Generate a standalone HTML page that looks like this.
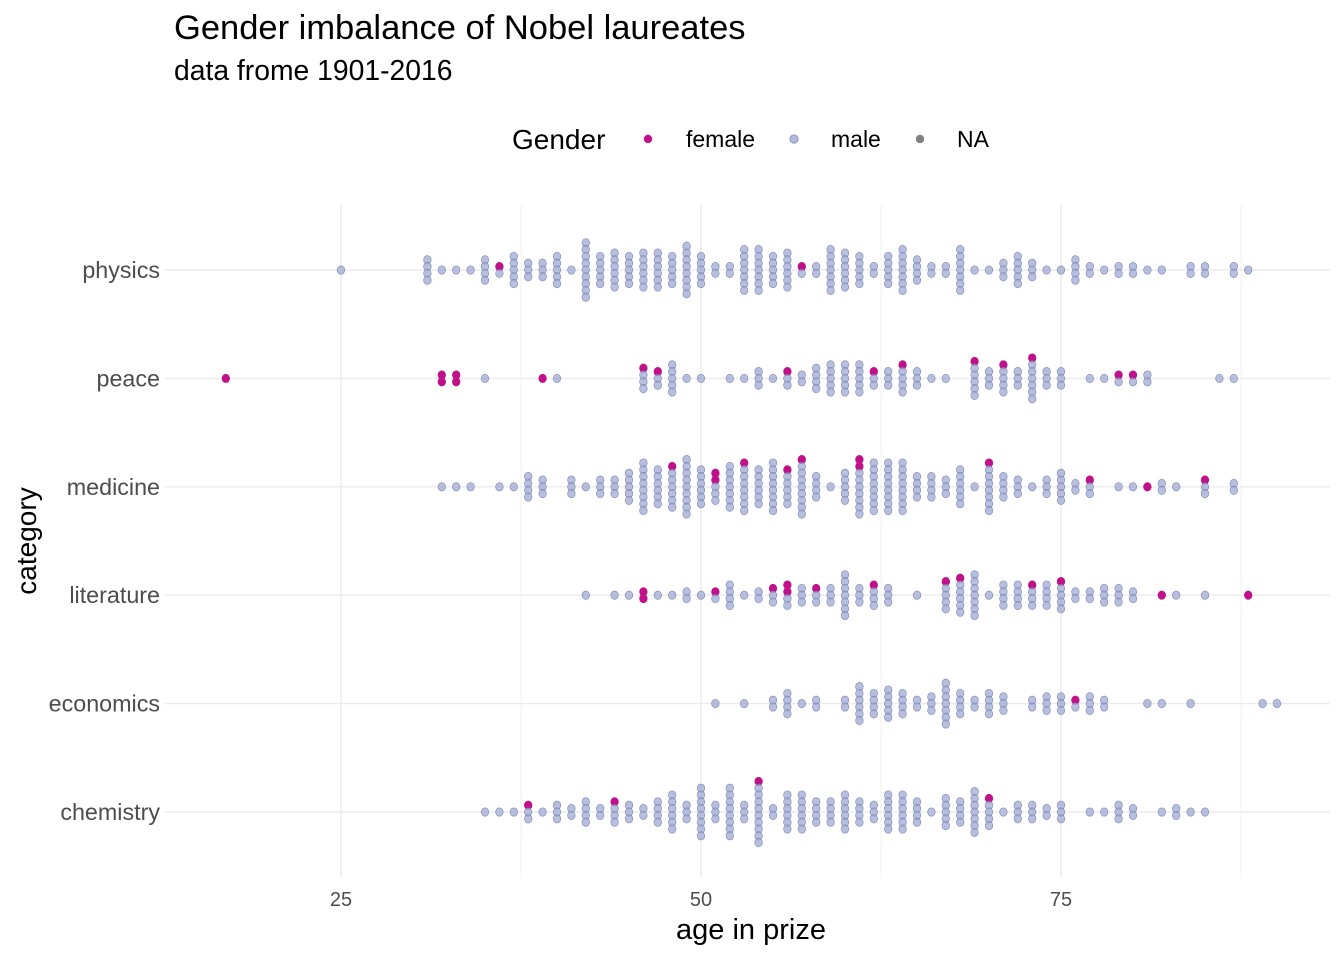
<!DOCTYPE html>
<html><head><meta charset="utf-8"><style>
body{margin:0;background:#fff;}
svg text{font-family:"Liberation Sans",Arial,sans-serif;}
</style></head><body>
<svg id="chart" width="1344" height="960" xmlns="http://www.w3.org/2000/svg">
<text x="174" y="39" font-size="34.5" fill="#000">Gender imbalance of Nobel laureates</text>
<text x="174" y="80" font-size="28.3" fill="#000">data frome 1901-2016</text>
<g>
<text x="512" y="149" font-size="28">Gender</text>
<circle cx="648" cy="139" r="4.2" fill="#c0118a"/>
<text x="686" y="147" font-size="23">female</text>
<circle cx="794" cy="139" r="4.2" fill="#b3badb" stroke="#8690c4" stroke-width="0.8"/>
<text x="831" y="147" font-size="23">male</text>
<circle cx="920" cy="139" r="4.2" fill="#808080"/>
<text x="957" y="147" font-size="23">NA</text>
</g>
<g id="grid"></g>
<g id="ylabels"></g>
<g id="xlabels"></g>
<g id="points"></g>
<text x="751" y="939" font-size="29" text-anchor="middle">age in prize</text>
<text transform="translate(36,541) rotate(-90)" font-size="28" text-anchor="middle">category</text>
</svg>
<script>
const categories = ["physics","peace","medicine","literature","economics","chemistry"];
const xTicks = [25,50,75];
const physicsAges   = [25,31,32,33,34,35,36,37,38,39,40,41,42,43,44,45,46,47,48,49,50,51,52,53,54,55,56,57,58,59,60,61,62,63,64,65,66,67,68,69,70,71,72,73,74,75,76,77,78,79,80,81,82,84,85,87,88];
const physicsCounts = [1,4,1,1,1,4,2,5,3,3,5,1,9,5,6,5,6,6,5,8,5,2,2,7,7,5,6,2,2,7,6,5,2,5,7,4,2,2,7,1,1,3,5,3,1,1,4,2,1,2,2,1,1,2,2,2,1];
const physicsFemale = [0,0,0,0,0,0,1,0,0,0,0,0,0,0,0,0,0,0,0,0,0,0,0,0,0,0,0,1,0,0,0,0,0,0,0,0,0,0,0,0,0,0,0,0,0,0,0,0,0,0,0,0,0,0,0,0,0];
const peaceAges   = [17,32,33,35,39,40,46,47,48,49,50,52,53,54,55,56,57,58,59,60,61,62,63,64,65,66,67,69,70,71,72,73,74,75,77,78,79,80,81,86,87];
const peaceCounts = [1,2,2,1,1,1,4,3,5,1,1,1,1,3,1,3,2,4,5,5,5,3,3,5,3,1,1,6,3,5,3,7,3,3,1,1,2,2,2,1,1];
const peaceFemale = [1,2,2,0,1,0,1,1,0,0,0,0,0,0,0,1,0,0,0,0,0,1,0,1,0,0,0,1,0,1,0,1,0,0,0,0,1,1,0,0,0];
const medicineAges   = [32,33,34,36,37,38,39,41,42,43,44,45,46,47,48,49,50,51,52,53,54,55,56,57,58,59,60,61,62,63,64,65,66,67,68,69,70,71,72,73,74,75,76,77,79,80,81,82,83,85,87];
const medicineCounts = [1,1,1,1,1,4,3,3,1,3,3,5,8,6,7,9,6,5,7,8,6,8,6,9,4,1,5,9,8,8,8,4,4,3,6,1,8,4,3,1,3,5,2,3,1,1,1,2,1,3,2];
const medicineFemale = [0,0,0,0,0,0,0,0,0,0,0,0,0,0,1,0,0,2,0,1,0,0,1,1,0,0,0,2,0,0,0,0,0,0,0,0,1,0,0,0,0,0,0,1,0,0,1,0,0,1,0];
const literatureAges   = [42,44,45,46,47,48,49,50,51,52,53,54,55,56,57,58,59,60,61,62,63,65,67,68,69,70,71,72,73,74,75,76,77,78,79,80,82,83,85,88];
const literatureCounts = [1,1,1,2,1,1,2,1,2,4,1,2,3,4,3,3,3,7,3,4,3,1,5,6,7,1,4,4,4,4,5,2,2,3,3,2,1,1,1,1];
const literatureFemale = [0,0,0,2,0,0,0,0,1,0,0,0,1,2,0,1,0,0,0,1,0,0,1,1,0,0,0,0,1,0,1,0,0,0,0,0,1,0,0,1];
const economicsAges   = [51,53,55,56,57,58,60,61,62,63,64,65,66,67,68,69,70,71,73,74,75,76,77,78,81,82,84,89,90];
const economicsCounts = [1,1,2,4,1,2,2,6,4,5,4,2,3,7,4,2,4,3,2,3,3,2,3,2,1,1,1,1,1];
const economicsFemale = [0,0,0,0,0,0,0,0,0,0,0,0,0,0,0,0,0,0,0,0,0,1,0,0,0,0,0,0,0];
const chemistryAges   = [35,36,37,38,39,40,41,42,43,44,45,46,47,48,49,50,51,52,53,54,55,56,57,58,59,60,61,62,63,64,65,66,67,68,69,70,71,72,73,74,75,77,78,79,80,82,83,84,85];
const chemistryCounts = [1,1,1,3,1,3,2,4,2,4,3,2,4,6,3,8,3,8,3,10,2,6,6,4,4,6,4,3,6,6,4,1,5,4,7,5,1,3,3,2,3,1,1,3,2,1,2,1,1];
const chemistryFemale = [0,0,0,1,0,0,0,0,0,1,0,0,0,0,0,0,0,0,0,1,0,0,0,0,0,0,0,0,0,0,0,0,0,0,0,1,0,0,0,0,0,0,0,0,0,0,0,0,0];

const NS="http://www.w3.org/2000/svg";
const xScale = a => 341 + (a-25)*14.4;
const yScale = i => 270 + i*108.4;
const STEP = 6.8;
function mk(tag, attrs, parent){const e=document.createElementNS(NS,tag);for(const k in attrs)e.setAttribute(k,attrs[k]);parent.appendChild(e);return e;}
const grid=document.getElementById('grid');
[37.5,62.5,87.5].forEach(v=>{
  const l=mk('line',{x1:xScale(v),x2:xScale(v),y1:205,y2:878,stroke:'#f2f2f2','stroke-width':1},grid);
  
  
});
xTicks.forEach(v=>{
  const l=mk('line',{x1:xScale(v),x2:xScale(v),y1:205,y2:878,stroke:'#ebebeb','stroke-width':1.4},grid);
  
  
  const t=mk('text',{x:xScale(v),y:906,'font-size':20,'text-anchor':'middle',fill:'#4d4d4d'},document.getElementById('xlabels'));
  t.textContent=v;
  
  
});
categories.forEach((c,i)=>{
  const l=mk('line',{x1:165,x2:1330,y1:yScale(i),y2:yScale(i),stroke:'#ebebeb','stroke-width':1.4},grid);
  
  
  const t=mk('text',{x:160,y:yScale(i)+8,'font-size':23.3,'text-anchor':'end',fill:'#4d4d4d'},document.getElementById('ylabels'));
  t.textContent=c;
  
  
});
const sets=[[physicsAges,physicsCounts,physicsFemale],[peaceAges,peaceCounts,peaceFemale],[medicineAges,medicineCounts,medicineFemale],[literatureAges,literatureCounts,literatureFemale],[economicsAges,economicsCounts,economicsFemale],[chemistryAges,chemistryCounts,chemistryFemale]];
const pts=document.getElementById('points');
sets.forEach((s,ci)=>{
  const [ages,counts,fem]=s;
  ages.forEach((a,j)=>{
    const n=counts[j];
    for(let k=0;k<n;k++){
      const y=yScale(ci)+(k-(n-1)/2)*STEP;
      const isF = k < fem[j];
      const c=mk('ellipse',{cx:xScale(a),cy:y,rx:3.8,ry:4.2,fill:isF?'#c0118a':'rgba(160,170,210,0.75)',stroke:isF?'#c0118a':'rgba(100,112,175,0.7)','stroke-width':0.7},pts);
      
      
    }
  });
});
</script>
</body></html>
